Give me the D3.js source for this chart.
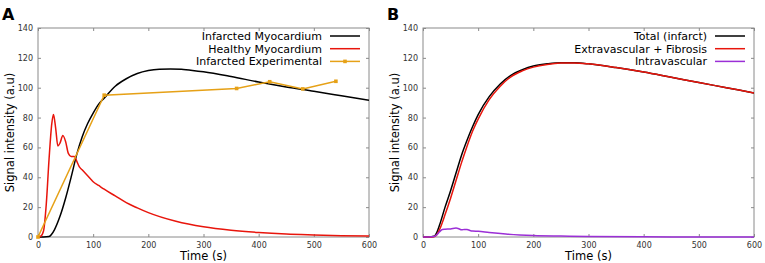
<!DOCTYPE html>
<html lang="en">
<head>
<meta charset="UTF-8" />
<title>Signal intensity curves</title>
<script src="https://d3js.org/d3.v7.min.js"></script>
<style>
  body { margin: 0; background: #fff; }
  svg { display: block; font-family: "DejaVu Sans", sans-serif; }
  .tick-label { font-size: 8px; fill: #333; }
  .axis-label { font-size: 11.5px; fill: #000; }
  .legend text { font-size: 11px; fill: #000; }
  .panel-letter { font-size: 16px; font-weight: bold; }
</style>
</head>
<body>
<div id="chart"></div>
<script>
// ---- data ----
const xTicks = [0, 100, 200, 300, 400, 500, 600];
const yTicks = [0, 20, 40, 60, 80, 100, 120, 140];

// Panel A
const infarctedT = [0, 10, 20, 25, 30, 40, 50, 60, 70, 80, 90, 100, 110, 120, 140, 160, 180, 200, 220, 240, 260, 280, 300, 350, 400, 450, 500, 550, 600];
const infarctedV = [0, 0, 0.3, 2, 5, 14, 26, 40, 55, 67, 76, 83, 89, 93, 101, 106, 109.5, 111.5, 112.4, 112.6, 112.3, 111.6, 110.7, 107.5, 103.8, 100.5, 97.6, 94.6, 91.6];
const healthyT = [0, 5, 10, 15, 20, 25, 28, 32, 36, 40, 45, 50, 55, 60, 66, 70, 75, 80, 85, 90, 95, 100, 110, 120, 140, 160, 180, 200, 250, 300, 350, 400, 450, 500, 550, 600];
const healthyV = [0, 0.5, 4, 22, 52, 76, 82, 73, 61, 63, 68, 64, 56, 54, 54, 51, 47, 45, 43, 41, 39, 37, 34.5, 32, 27.5, 23, 19.5, 16.3, 10.5, 6.8, 4.5, 3, 2, 1.4, 0.9, 0.6];
const expT = [0, 120, 360, 420, 480, 540];
const expV = [0, 95, 99.5, 104, 99.2, 104.3];

// Panel B
const totalT = [0, 10, 20, 25, 30, 40, 50, 60, 70, 80, 90, 100, 120, 140, 160, 180, 200, 225, 250, 275, 300, 350, 400, 450, 500, 550, 600];
const totalV = [0, 0, 0.5, 3, 8, 20, 31, 43, 55, 65, 74, 82, 94, 102.5, 108.5, 112, 114.5, 116, 116.8, 116.7, 116, 113.5, 110.5, 107, 103.5, 100, 96.5];
const extraT = [0, 10, 20, 25, 30, 40, 50, 60, 70, 80, 90, 100, 120, 140, 160, 180, 200, 225, 250, 275, 300, 350, 400, 450, 500, 550, 600];
const extraV = [0, 0, 0.2, 1.5, 5, 15, 26, 38, 50, 61, 71, 79, 92, 101, 107.5, 111.3, 113.8, 115.6, 116.5, 116.6, 116, 113.5, 110.5, 107, 103.5, 100, 96.5];
const intraT = [0, 10, 20, 25, 30, 35, 40, 50, 60, 65, 70, 75, 80, 85, 90, 100, 120, 150, 200, 250, 300, 400, 500, 600];
const intraV = [0, 0, 0.3, 1.5, 3.5, 5, 5.2, 5.4, 6, 5.5, 4.8, 5.1, 5, 4.4, 4, 3.8, 3, 2, 1, 0.6, 0.3, 0.1, 0.05, 0];

const panels = [
  {
    letter: "A", left: 38,
    series: [
      { label: "Infarcted Myocardium", t: infarctedT, v: infarctedV, color: "#000000", curve: d3.curveMonotoneX },
      { label: "Healthy Myocardium", t: healthyT, v: healthyV, color: "#e8150c", curve: d3.curveMonotoneX },
      { label: "Infarcted Experimental", t: expT, v: expV, color: "#e6a117", curve: d3.curveLinear, markers: true }
    ]
  },
  {
    letter: "B", left: 423,
    series: [
      { label: "Total (infarct)", t: totalT, v: totalV, color: "#000000", curve: d3.curveMonotoneX },
      { label: "Extravascular + Fibrosis", t: extraT, v: extraV, color: "#e8150c", curve: d3.curveMonotoneX },
      { label: "Intravascular", t: intraT, v: intraV, color: "#9b2fd6", curve: d3.curveMonotoneX }
    ]
  }
];

const W = 765, H = 263;
const plotW = 331, plotTop = 28, plotH = 209;

const svg = d3.select("#chart").append("svg").attr("width", W).attr("height", H);

panels.forEach(p => {
  const g = svg.append("g").attr("transform", `translate(${p.left},${plotTop})`);
  const x = d3.scaleLinear().domain([0, 600]).range([0, plotW]);
  const y = d3.scaleLinear().domain([0, 140]).range([plotH, 0]);

  // frame
  g.append("rect").attr("width", plotW).attr("height", plotH)
    .attr("fill", "none").attr("stroke", "#8a8a8a").attr("stroke-width", 1);

  // x axis (ticks inside, labels below)
  const xa = g.append("g").attr("transform", `translate(0,${plotH})`)
    .call(d3.axisBottom(x).tickValues(xTicks).tickSizeInner(-3).tickSizeOuter(0).tickPadding(5));
  const ya = g.append("g")
    .call(d3.axisLeft(y).tickValues(yTicks).tickSizeInner(-3).tickSizeOuter(0).tickPadding(5));
  [xa, ya].forEach(a => {
    a.select(".domain").remove();
    a.selectAll(".tick line").attr("stroke", "#8a8a8a");
    a.selectAll(".tick text").attr("class", "tick-label").style("font-size", "8px")
      .style("font-family", "DejaVu Sans, sans-serif").attr("fill", "#333");
  });
  // mirrored ticks on top/right
  g.append("g").call(d3.axisTop(x).tickValues(xTicks).tickSizeInner(-3).tickSizeOuter(0).tickFormat(""))
    .call(a => { a.select(".domain").remove(); a.selectAll("line").attr("stroke", "#8a8a8a"); });
  g.append("g").attr("transform", `translate(${plotW},0)`)
    .call(d3.axisRight(y).tickValues(yTicks).tickSizeInner(-3).tickSizeOuter(0).tickFormat(""))
    .call(a => { a.select(".domain").remove(); a.selectAll("line").attr("stroke", "#8a8a8a"); });

  // series
  const clip = "clip" + p.letter;
  g.append("clipPath").attr("id", clip).append("rect").attr("width", plotW).attr("height", plotH + 1);
  p.series.forEach(s => {
    const pts = s.t.map((t, i) => [t, s.v[i]]);
    const line = d3.line().x(d => x(d[0])).y(d => y(d[1])).curve(s.curve);
    g.append("path").datum(pts).attr("d", line)
      .attr("fill", "none").attr("stroke", s.color).attr("stroke-width", 1.5)
      .attr("clip-path", `url(#${clip})`);
    if (s.markers) {
      g.selectAll(null).data(pts).enter().append("rect")
        .attr("x", d => x(d[0]) - 1.8).attr("y", d => y(d[1]) - 1.8)
        .attr("width", 3.6).attr("height", 3.6).attr("fill", s.color);
    }
  });

  // legend
  const lg = g.append("g").attr("class", "legend");
  p.series.forEach((s, i) => {
    const ly = 8 + i * 12.7;
    lg.append("text").attr("x", 284).attr("y", ly).attr("dy", "0.35em")
      .attr("text-anchor", "end").text(s.label);
    lg.append("line").attr("x1", 292).attr("x2", 322).attr("y1", ly).attr("y2", ly)
      .attr("stroke", s.color).attr("stroke-width", 1.5);
    if (s.markers) {
      lg.append("rect").attr("x", 307 - 1.8).attr("y", ly - 1.8)
        .attr("width", 3.6).attr("height", 3.6).attr("fill", s.color);
    }
  });

  // axis labels
  g.append("text").attr("class", "axis-label").attr("x", plotW / 2).attr("y", plotH + 23)
    .attr("text-anchor", "middle").text("Time (s)");
  g.append("text").attr("class", "axis-label").attr("transform", "rotate(-90)")
    .attr("x", -plotH / 2).attr("y", -24).attr("text-anchor", "middle")
    .text("Signal intensity (a.u)");

  // panel letter
  svg.append("text").attr("class", "panel-letter").attr("x", p.left - 36).attr("y", 20)
    .text(p.letter);
});
</script>
</body>
</html>
